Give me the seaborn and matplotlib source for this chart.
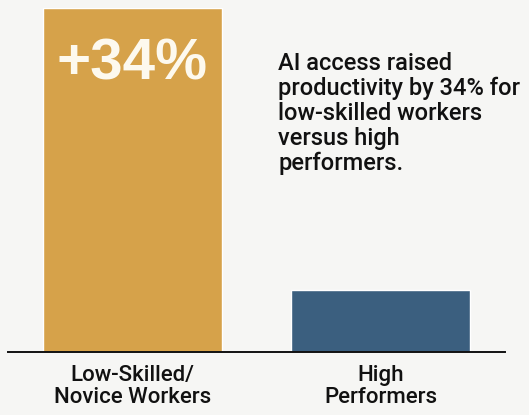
import pandas as pd
import matplotlib.pyplot as plt
import seaborn as sns

# data (relative productivity gain, %)
groups = ['Low-Skilled/\nNovice Workers', 'High\nPerformers']
gains = [34, 6.1]
bar_colors = ['#d6a24a', '#3b5f7f']

note = ('AI access raised\nproductivity by 34% for\n'
        'low-skilled workers\nversus high\nperformers.')

df = pd.DataFrame({'group': groups, 'gain': gains})

sns.set_theme(style='white')
plt.rcParams['font.family'] = ['Roboto', 'DejaVu Sans']

bg = '#f6f6f4'
fig = plt.figure(figsize=(5.29, 4.15), dpi=100, facecolor=bg)
ax = fig.add_axes([0.0151, 0.1518, 0.9395, 0.829], facecolor=bg)

sns.barplot(data=df, x='group', y='gain', hue='group', palette=bar_colors,
            width=0.72, legend=False, ax=ax, saturation=1)

ax.set_xlim(-0.5, 1.5)
ax.set_ylim(0, gains[0])
for s in ['top', 'right', 'left']:
    ax.spines[s].set_visible(False)
ax.spines['bottom'].set_color('#111111')
ax.spines['bottom'].set_linewidth(1.4)
ax.set_yticks([])
ax.set_xlabel('')
ax.set_ylabel('')
ax.tick_params(axis='x', length=0, pad=9, labelsize=16, labelcolor='#111111')
for t in ax.get_xticklabels():
    t.set_linespacing(1.08)
    t.set_fontweight('medium')

# big label inside the first bar
ax.text(0, gains[0] - 5.6, f'+{gains[0]}%', ha='center', va='center',
        color='#fdf9ee', fontsize=42, fontweight='bold',
        family=['Liberation Sans', 'DejaVu Sans'])

# side note
fig.text(278 / 529, 1 - 52 / 415, note, ha='left', va='top', fontsize=17,
         color='#111111', linespacing=1.1, fontweight='medium')

plt.savefig('out.png', dpi=100, facecolor=bg)
